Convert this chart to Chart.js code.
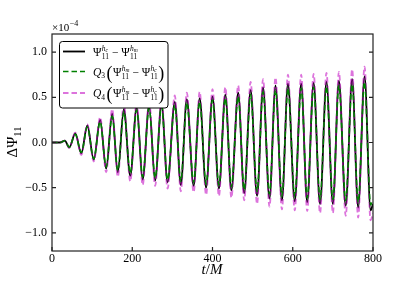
<!DOCTYPE html>
<html>
<head>
<meta charset="utf-8">
<script src="https://cdn.jsdelivr.net/npm/chart.js@4.4.1/dist/chart.umd.min.js"></script>
<style>
  html, body { margin: 0; padding: 0; background: #fff; }
  canvas { display: block; }
</style>
</head>
<body>
<canvas id="c" width="415" height="286"></canvas>
<script>
// times of the extrema (t/M)
const tPoints = [0, 20, 32, 43, 58, 73, 88, 104, 120, 135, 150, 164, 179, 195, 211, 226, 242, 257,
  273, 288, 306, 321, 336, 353, 368, 384, 400, 416, 432, 447, 464, 479, 495, 511, 526, 542, 557,
  573, 588, 605, 621, 636, 652, 668, 684, 700, 715, 732, 748, 763, 779, 794, 800];

// Psi^hc - Psi^hm  (units of 1e-4)
const diffHcHm = [0, 0, 0.02, -0.055, 0.10, -0.12, 0.19, -0.19, 0.25, -0.29, 0.32, -0.33, 0.37, -0.37,
  0.39, -0.41, 0.41, -0.42, 0.43, -0.44, 0.45, -0.47, 0.48, -0.48, 0.49, -0.50, 0.51, -0.51, 0.53,
  -0.53, 0.55, -0.56, 0.58, -0.59, 0.61, -0.62, 0.63, -0.64, 0.65, -0.65, 0.65, -0.66, 0.66, -0.68,
  0.67, -0.68, 0.68, -0.70, 0.70, -0.72, 0.73, -0.75, -0.68];

// Q3 (Psi^hm - Psi^hc)
const q3Diff = [0, 0, 0.02, -0.05, 0.09, -0.11, 0.17, -0.18, 0.23, -0.27, 0.29, -0.31, 0.34, -0.34,
  0.36, -0.38, 0.38, -0.39, 0.40, -0.41, 0.41, -0.43, 0.44, -0.44, 0.45, -0.46, 0.47, -0.47, 0.49,
  -0.49, 0.51, -0.52, 0.53, -0.54, 0.56, -0.57, 0.58, -0.59, 0.60, -0.60, 0.60, -0.61, 0.61, -0.63,
  0.62, -0.63, 0.63, -0.64, 0.64, -0.66, 0.67, -0.69, -0.63];

// Q4 (Psi^hm - Psi^hc)
const q4Diff = [0, 0, 0.02, -0.06, 0.11, -0.14, 0.20, -0.21, 0.28, -0.33, 0.37, -0.38, 0.43, -0.43,
  0.45, -0.47, 0.47, -0.48, 0.49, -0.51, 0.52, -0.54, 0.55, -0.55, 0.56, -0.58, 0.59, -0.59, 0.61,
  -0.61, 0.63, -0.64, 0.67, -0.68, 0.70, -0.71, 0.72, -0.74, 0.75, -0.75, 0.75, -0.76, 0.76, -0.78,
  0.77, -0.78, 0.78, -0.81, 0.81, -0.83, 0.84, -0.86, -0.78];

const xTicks = [0, 200, 400, 600, 800];
const yTicks = [-1.0, -0.5, 0.0, 0.5, 1.0];

const SERIF = '"Liberation Serif", "DejaVu Serif", serif';
const MAGENTA = 'rgba(191, 0, 191, 0.55)';
const GREEN = '#008000';
const DASH = [5.5, 3];

function pts(ys) {
  return tPoints.map((t, i) => ({ x: t, y: ys[i] }));
}

function txt(ctx, s, x, y, size, italic) {
  ctx.font = (italic ? 'italic ' : '') + size + 'px ' + SERIF;
  ctx.fillText(s, x, y);
  return ctx.measureText(s).width;
}

// Psi_11^{h_x}
function psi(ctx, x, y, letter) {
  let w = txt(ctx, 'Ψ', x, y, 11.5, false);
  let x2 = x + w + 0.3;
  let a = txt(ctx, 'h', x2, y - 5, 7.5, true);
  let b = txt(ctx, letter, x2 + a, y - 3.5, 5.5, true);
  let c = txt(ctx, '11', x2, y + 3, 7.5, false);
  return w + 0.3 + Math.max(a + b, c);
}

const decor = {
  id: 'decor',
  afterDatasetsDraw(chart) {
    const ctx = chart.ctx;
    const a = chart.chartArea;
    const xs = chart.scales.x, ys = chart.scales.y;
    ctx.save();
    ctx.strokeStyle = '#222';
    ctx.lineWidth = 1.2;
    ctx.strokeRect(a.left, a.top, a.right - a.left, a.bottom - a.top);
    ctx.beginPath();
    yTicks.forEach(v => {
      const py = ys.getPixelForValue(v);
      ctx.moveTo(a.left, py); ctx.lineTo(a.left + 4, py);
      ctx.moveTo(a.right, py); ctx.lineTo(a.right - 4, py);
    });
    xTicks.forEach(v => {
      const px = xs.getPixelForValue(v);
      ctx.moveTo(px, a.bottom); ctx.lineTo(px, a.bottom - 4);
    });
    ctx.stroke();

    // legend
    ctx.fillStyle = '#fff';
    ctx.strokeStyle = '#000';
    ctx.lineWidth = 1;
    ctx.beginPath();
    ctx.roundRect(59.5, 41.5, 108.5, 66.5, 3);
    ctx.fill();
    ctx.stroke();

    const rows = [51.5, 71.5, 93];
    const styles = [
      { color: '#000', dash: [], w: 1.8 },
      { color: GREEN, dash: DASH, w: 1.6 },
      { color: MAGENTA, dash: DASH, w: 1.8 }
    ];
    styles.forEach((s, i) => {
      ctx.beginPath();
      ctx.strokeStyle = s.color;
      ctx.lineWidth = s.w;
      ctx.setLineDash(s.dash);
      ctx.moveTo(63, rows[i]);
      ctx.lineTo(85, rows[i]);
      ctx.stroke();
    });
    ctx.setLineDash([]);

    ctx.fillStyle = '#000';
    ctx.textBaseline = 'alphabetic';
    ctx.textAlign = 'left';
    // row 1
    let x = 93, y = rows[0] + 4;
    x += psi(ctx, x, y, 'c');
    x += txt(ctx, ' − ', x, y, 11.5, false);
    psi(ctx, x, y, 'm');
    // rows 2 and 3
    ['3', '4'].forEach((q, i) => {
      let x = 93, y = rows[i + 1] + 4;
      x += txt(ctx, 'Q', x, y, 11.5, true);
      x += txt(ctx, q, x, y + 2.5, 7.5, false) + 1.5;
      x += txt(ctx, '(', x, y + 3, 18, false) + 0.5;
      x += psi(ctx, x, y, 'm');
      x += txt(ctx, ' − ', x, y, 11.5, false);
      x += psi(ctx, x, y, 'c');
      txt(ctx, ')', x + 0.5, y + 3, 18, false);
    });

    // offset text
    let ox = 52;
    ox += txt(ctx, '×10', ox, 31, 11, false);
    txt(ctx, '−4', ox + 0.5, 26, 8, false);

    // x label t/M
    ctx.font = 'italic 15px ' + SERIF;
    const wt = ctx.measureText('t').width;
    const wM = ctx.measureText('M').width;
    ctx.font = '15px ' + SERIF;
    const ws = ctx.measureText('/').width;
    let lx = 212 - (wt + ws + wM) / 2;
    lx += txt(ctx, 't', lx, 274, 15, true);
    lx += txt(ctx, '/', lx, 274, 15, false);
    txt(ctx, 'M', lx, 274, 15, true);

    // y label
    ctx.translate(17, 142);
    ctx.rotate(-Math.PI / 2);
    ctx.font = '15px ' + SERIF;
    const wD = ctx.measureText('ΔΨ').width;
    ctx.font = '10.5px ' + SERIF;
    const w11 = ctx.measureText('11').width;
    let yx = -(wD + w11) / 2;
    yx += txt(ctx, 'ΔΨ', yx, 0, 15, false);
    txt(ctx, '11', yx, 3.5, 10.5, false);
    ctx.restore();
  }
};

new Chart(document.getElementById('c'), {
  type: 'line',
  data: {
    datasets: [
      { label: 'hc-hm', data: pts(diffHcHm), borderColor: '#000', borderWidth: 1.8, order: 3 },
      { label: 'Q3', data: pts(q3Diff), borderColor: GREEN, borderWidth: 1.6, borderDash: DASH, order: 1 },
      { label: 'Q4', data: pts(q4Diff), borderColor: MAGENTA, borderWidth: 1.8, borderDash: DASH, order: 2 }
    ]
  },
  options: {
    responsive: false,
    animation: false,
    layout: { padding: { top: 34, right: 42, left: 0, bottom: 0 } },
    elements: {
      point: { radius: 0 },
      line: { cubicInterpolationMode: 'monotone', fill: false }
    },
    plugins: { legend: { display: false }, tooltip: { enabled: false } },
    scales: {
      x: {
        type: 'linear', min: 0, max: 800,
        afterBuildTicks: s => { s.ticks = xTicks.map(v => ({ value: v })); },
        afterFit: s => { s.height = 35; },
        grid: { display: false, drawTicks: false },
        border: { display: false },
        ticks: { color: '#000', padding: 1, maxRotation: 0, font: { family: SERIF, size: 12 },
          callback: v => String(v) }
      },
      y: {
        type: 'linear', min: -1.2, max: 1.2,
        afterBuildTicks: s => { s.ticks = yTicks.map(v => ({ value: v })); },
        afterFit: s => { s.width = 52; },
        grid: { display: false, drawTicks: false },
        border: { display: false },
        ticks: { color: '#000', padding: 5, font: { family: SERIF, size: 12 },
          callback: v => (v < 0 ? '−' : '') + Math.abs(v).toFixed(1) }
      }
    }
  },
  plugins: [decor]
});
</script>
</body>
</html>
